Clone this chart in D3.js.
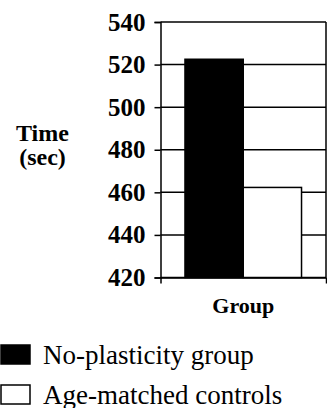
<!DOCTYPE html>
<html>
<head>
<meta charset="utf-8">
<script src="https://cdn.jsdelivr.net/npm/d3@7"></script>
<style>
  body { margin: 0; background: #fff; }
  svg { display: block; }
</style>
</head>
<body>
<svg id="chart"></svg>
<script>
// data
const groups = ["Group"];
const seriesNames = ["No-plasticity group", "Age-matched controls"];
const seriesValues = [522.5, 462.3];
const seriesFills = ["#000000", "#ffffff"];
const yTicks = [420, 440, 460, 480, 500, 520, 540];

const fontStack = "'Liberation Serif', 'Times New Roman', serif";

//setting up container
const w = 327;
const h = 408;
const svg = d3.select("#chart").attr("width", w).attr("height", h);

const plotLeft = 160.5, plotRight = 326, plotTop = 22, plotBottom = 277.5;

//scales
const yScale = d3.scaleLinear([420, 540], [plotBottom, plotTop]);
const xGroup = d3.scaleBand(groups, [plotLeft, plotRight]).paddingInner(0).paddingOuter(0.21);
const xSeries = d3.scaleBand(seriesNames, [0, xGroup.bandwidth()]).padding(0);

// gridlines
svg.append("g")
  .selectAll("line")
  .data(yTicks)
  .enter()
  .append("line")
  .attr("x1", plotLeft)
  .attr("x2", plotRight)
  .attr("y1", d => yScale(d))
  .attr("y2", d => yScale(d))
  .attr("stroke", "#000")
  .attr("stroke-width", 1.5);

// right border
svg.append("line")
  .attr("x1", plotRight).attr("x2", plotRight)
  .attr("y1", plotTop).attr("y2", plotBottom)
  .attr("stroke", "#000").attr("stroke-width", 1.5);

// bars
const data = seriesNames.map((s, i) => ({ name: s, value: seriesValues[i], fill: seriesFills[i] }));
svg.append("g")
  .selectAll("rect")
  .data(data)
  .enter()
  .append("rect")
  .attr("x", d => xGroup(groups[0]) + xSeries(d.name))
  .attr("width", xSeries.bandwidth())
  .attr("y", d => yScale(d.value))
  .attr("height", d => plotBottom - yScale(d.value))
  .attr("fill", d => d.fill)
  .attr("stroke", "#000")
  .attr("stroke-width", 1.5);

//axes
const yAxis = d3.axisLeft(yScale).tickValues(yTicks).tickSize(6).tickPadding(9).tickFormat(d3.format("d"));
const gy = svg.append("g").attr("transform", "translate(" + plotLeft + ",0)").call(yAxis);
gy.select(".domain").attr("stroke-width", 1.5);
gy.selectAll(".tick line").attr("stroke-width", 1.5);
gy.selectAll("text")
  .style("font-family", fontStack)
  .style("font-size", "25px")
  .style("font-weight", "bold")
  .attr("fill", "#000");

const xEdge = d3.scaleLinear([0, 1], [plotLeft, plotRight]);
const xAxis = d3.axisBottom(xEdge).tickValues([0, 1]).tickSize(6).tickSizeOuter(0).tickFormat("");
const gx = svg.append("g").attr("transform", "translate(0," + plotBottom + ")").call(xAxis);
gx.select(".domain").attr("stroke-width", 1.5);
gx.selectAll(".tick line").attr("stroke-width", 1.5);

// axis labels
function label(txt, x, y, size) {
  svg.append("text")
    .attr("x", x).attr("y", y)
    .attr("text-anchor", "middle")
    .style("font-family", fontStack)
    .style("font-size", size + "px")
    .style("font-weight", "bold")
    .text(txt);
}
label("Time", 42.5, 141, 24);
label("(sec)", 42.5, 165, 24);
label("Group", (plotLeft + plotRight) / 2, 313, 22);

// legend
const legendY = [345, 385];
const legend = svg.append("g")
  .selectAll("g")
  .data(data)
  .enter()
  .append("g")
  .attr("transform", (d, i) => "translate(0," + legendY[i] + ")");
legend.append("rect")
  .attr("x", 1).attr("y", 0)
  .attr("width", 29).attr("height", 19)
  .attr("fill", d => d.fill)
  .attr("stroke", "#000").attr("stroke-width", 1.5);
legend.append("text")
  .attr("x", 43).attr("y", 18.5)
  .style("font-family", fontStack)
  .style("font-size", "27px")
  .text(d => d.name);
</script>
</body>
</html>
